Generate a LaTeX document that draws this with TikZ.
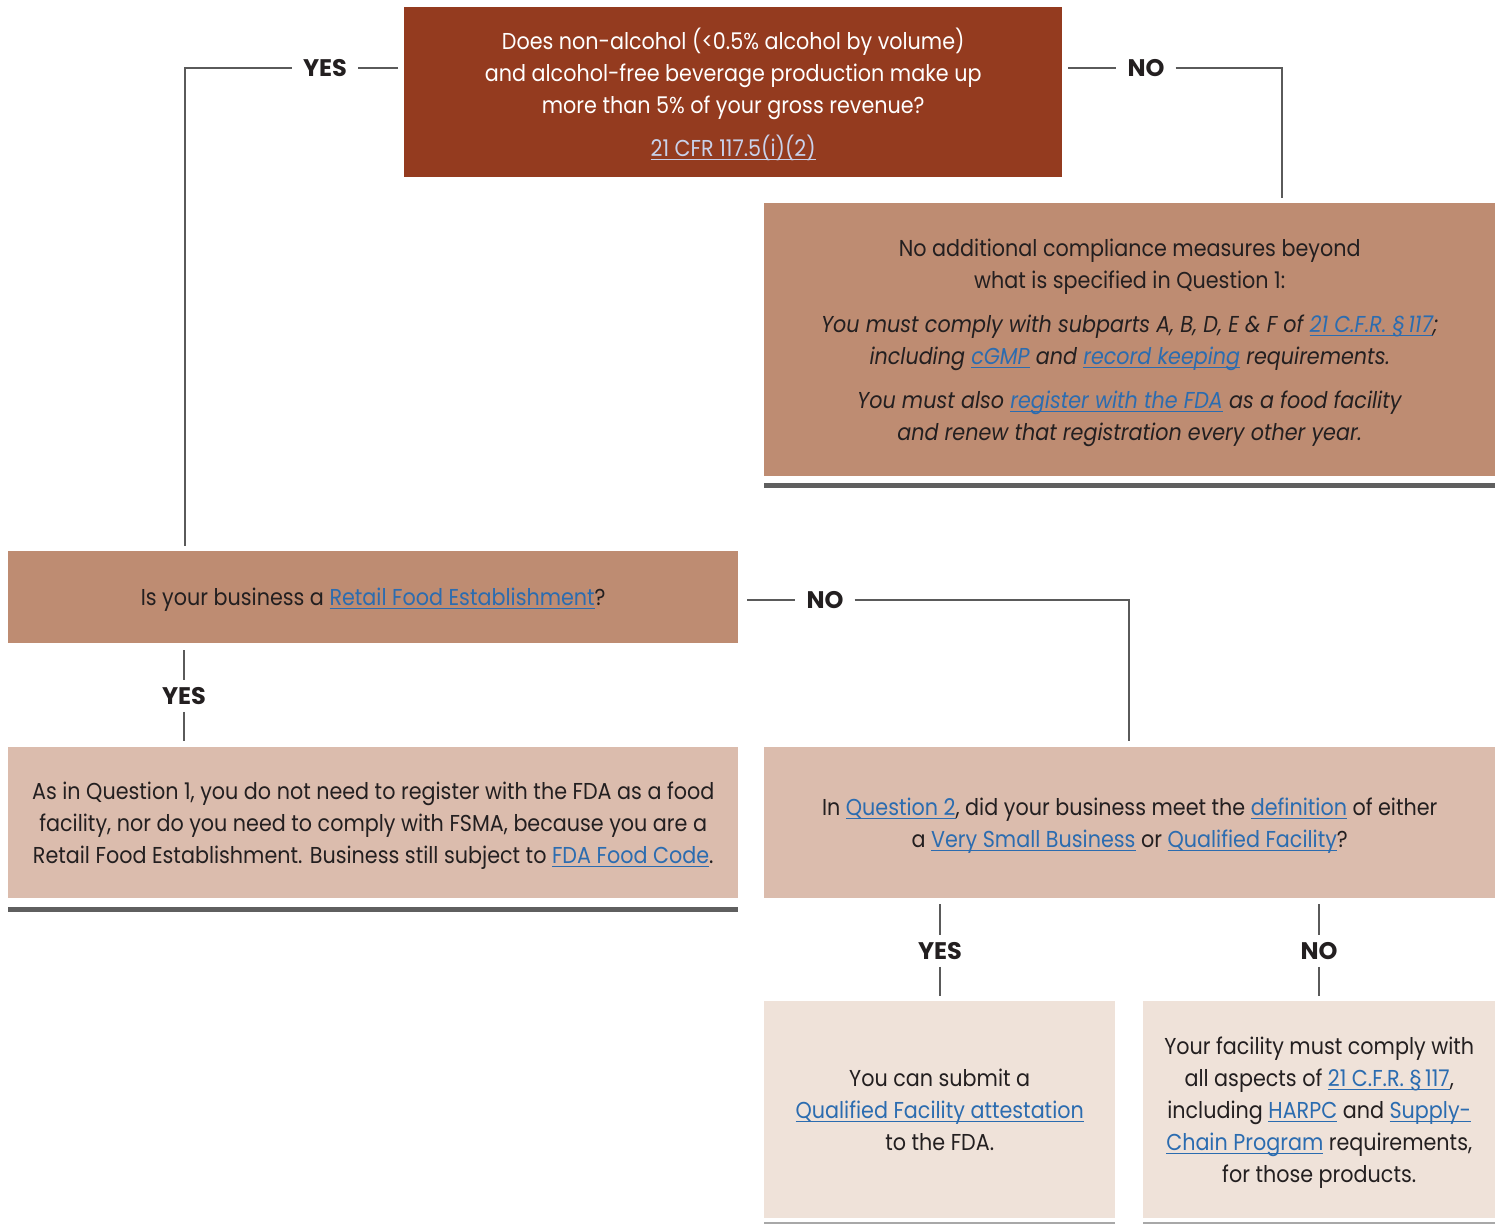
\documentclass[tikz,border=0pt]{standalone}
\usepackage{fontspec}
\setmainfont{Poppins}[FakeStretch=0.9]
\newfontfamily\tagfont{Poppins}
\usepackage{tikz}
\usetikzlibrary{positioning}
\definecolor{rust}{HTML}{943B1F}
\definecolor{clay}{HTML}{BE8C72}
\definecolor{sand}{HTML}{DBBCAD}
\definecolor{shell}{HTML}{EFE2D9}
\definecolor{ink}{HTML}{231F20}
\definecolor{linkblue}{HTML}{2B6CB0}
\definecolor{paleblue}{HTML}{C9D1EA}
\definecolor{wiregray}{HTML}{5A5A5A}
\definecolor{shelfgray}{HTML}{5F5F5F}
\definecolor{lightshelf}{HTML}{A8A8A8}
\newsavebox{\lnkbox}
\newcommand{\uln}[1]{\sbox{\lnkbox}{#1}\rlap{\rule[-3.5pt]{\wd\lnkbox}{1.1pt}}\usebox{\lnkbox}}
\newcommand{\lnk}[1]{{\color{linkblue}\uln{#1}}}
\newcommand{\CFR}{21 C.F.R. §\,117}

\begin{document}
\begin{tikzpicture}[
  x=1pt, y=-1pt,
  box/.style={anchor=north west, inner sep=0pt, align=center, text=ink, text depth=-4pt, font=\fontsize{23}{32}\selectfont},
  tag/.style={font=\tagfont\fontsize{24}{24}\selectfont\bfseries, text=ink, inner xsep=11pt, inner ysep=7pt},
  wire/.style={draw=wiregray, line width=1.4pt},
  shelf/.style={draw=shelfgray, line width=5pt}
]
\useasboundingbox (0,0) rectangle (1499,1224);
\node[box, fill=rust, text=white, minimum width=658, minimum height=170] (q1) at (404,7) {Does non-alcohol (<0.5\% alcohol by volume)\\ and alcohol-free beverage production make up\\ more than 5\% of your gross revenue?\\[11pt] {\color{paleblue}\uln{21 CFR 117.5(i)(2)}}};
\node[box, fill=clay, minimum width=731, minimum height=273] (a1) at (764,203) {No additional compliance measures beyond\\ what is specified in Question 1:\\[12pt] \textit{You must comply with subparts A, B, D, E \& F of \lnk{\CFR};}\\ \textit{including \lnk{cGMP} and \lnk{record keeping} requirements.}\\[12pt] \textit{You must also \lnk{register with the FDA} as a food facility}\\ \textit{and renew that registration every other year.}};
\node[box, fill=clay, minimum width=730, minimum height=92] (q2) at (8,551) {Is your business a \lnk{Retail Food Establishment}?};
\node[box, fill=sand, minimum width=730, minimum height=151] (a2) at (8,747) {As in Question 1, you do not need to register with the FDA as a food\\ facility, nor do you need to comply with FSMA, because you are a\\ Retail Food Establishment. Business still subject to \lnk{FDA Food Code}.};
\node[box, fill=sand, minimum width=731, minimum height=151] (q3) at (764,747) {In \lnk{Question 2}, did your business meet the \lnk{definition} of either\\ a \lnk{Very Small Business} or \lnk{Qualified Facility}?};
\node[box, fill=shell, minimum width=351, minimum height=217] (a3) at (764,1001) {You can submit a\\ \lnk{Qualified Facility attestation}\\ to the FDA.};
\node[box, fill=shell, minimum width=352, minimum height=217] (a4) at (1143,1001) {Your facility must comply with\\ all aspects of \lnk{\CFR},\\ including \lnk{HARPC} and \lnk{Supply-}\\ \lnk{Chain Program} requirements,\\ for those products.};

\node[tag] (yes1) at (325,68) {YES};
\node[tag] (no1) at (1146,68) {NO};
\node[tag] (no2) at (825,600) {NO};
\node[tag] (yes2) at (184,696) {YES};
\node[tag] (yes3) at (940,951) {YES};
\node[tag] (no3) at (1319,951) {NO};
\coordinate (turn1) at (185,68);
\coordinate (turn2) at (1282,68);
\coordinate (turn3) at (1129,600);

\draw[wire, shorten <=6pt] (yes1 -| q1.west) -- (yes1.east);
\draw[wire, shorten >=5pt] (yes1.west) -- (turn1) -- (turn1 |- q2.north);
\draw[wire, shorten <=6pt] (no1 -| q1.east) -- (no1.west);
\draw[wire, shorten >=5pt] (no1.east) -- (turn2) -- (turn2 |- a1.north);
\draw[wire, shorten <=9pt] (no2 -| q2.east) -- (no2.west);
\draw[wire, shorten >=6pt] (no2.east) -- (turn3) -- (turn3 |- q3.north);
\draw[wire, shorten <=7pt] (yes2 |- q2.south) -- (yes2.north);
\draw[wire, shorten >=6pt] (yes2.south) -- (yes2 |- a2.north);
\draw[wire, shorten <=6pt] (yes3 |- q3.south) -- (yes3.north);
\draw[wire, shorten >=5pt] (yes3.south) -- (yes3 |- a3.north);
\draw[wire, shorten <=6pt] (no3 |- q3.south) -- (no3.north);
\draw[wire, shorten >=5pt] (no3.south) -- (no3 |- a4.north);

\draw[shelf] ([yshift=-9pt]a1.south west) -- ([yshift=-9pt]a1.south east);
\draw[shelf] ([yshift=-11.5pt]a2.south west) -- ([yshift=-11.5pt]a2.south east);
\draw[draw=lightshelf, line width=2pt] ([yshift=-5pt]a3.south west) -- ([yshift=-5pt]a3.south east);
\draw[draw=lightshelf, line width=2pt] ([yshift=-5pt]a4.south west) -- ([yshift=-5pt]a4.south east);
\end{tikzpicture}
\end{document}
